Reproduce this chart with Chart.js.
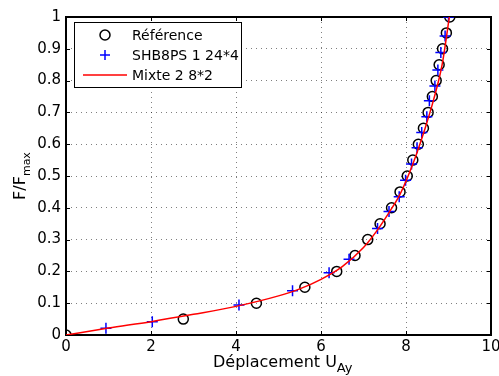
<!DOCTYPE html>
<html>
<head>
<meta charset="utf-8">
<script src="https://cdn.jsdelivr.net/npm/chart.js@4"></script>
<style>
  html, body { margin: 0; padding: 0; background: #fff; }
</style>
</head>
<body>
<canvas id="myChart" width="499" height="376"></canvas>
<script>
/*------------------------------DATA--------------------------------------------*/

// Référence (open circles)
const refX = [0, 2.76, 4.48, 5.62, 6.37, 6.8, 7.1, 7.39, 7.66, 7.86, 8.03, 8.16, 8.29, 8.41, 8.52, 8.62, 8.71, 8.78, 8.86, 8.95, 9.03];
const refY = [0, 0.05, 0.1, 0.15, 0.2, 0.25, 0.3, 0.35, 0.4, 0.45, 0.5, 0.55, 0.6, 0.65, 0.7, 0.75, 0.8, 0.85, 0.9, 0.95, 1.0];

// SHB8PS 1 24*4 (blue plus)
const shbX = [0.94, 2.03, 4.07, 5.33, 6.19, 6.66, 7.33, 7.6, 7.84, 7.99, 8.13, 8.26, 8.37, 8.49, 8.55, 8.68, 8.75, 8.82, 8.92, 9.0];
const shbY = [0.021, 0.042, 0.094, 0.139, 0.196, 0.238, 0.335, 0.388, 0.435, 0.487, 0.538, 0.589, 0.637, 0.686, 0.737, 0.783, 0.833, 0.888, 0.94, 1.0];

// Mixte 2 8*2 (red line)
const mixX = [0, 1, 2, 3, 4, 5, 5.5, 6, 6.5, 7, 7.3, 7.6, 7.85, 8.05, 8.25, 8.45, 8.65, 8.85, 9.02];
const mixY = [0, 0.022, 0.042, 0.065, 0.09, 0.123, 0.145, 0.175, 0.215, 0.275, 0.325, 0.385, 0.44, 0.5, 0.57, 0.65, 0.74, 0.85, 1.0];

const xTicks = [0, 2, 4, 6, 8, 10];
const yTicks = [0, 0.1, 0.2, 0.3, 0.4, 0.5, 0.6, 0.7, 0.8, 0.9, 1];

const seriesNames = ['Référence', 'SHB8PS 1 24*4', 'Mixte 2 8*2'];

function pts(xs, ys) {
    return xs.map((x, i) => ({ x: x, y: ys[i] }));
}

/*------------------------------PLUGINS------------------------------------------*/

const FONT = '"DejaVu Sans", sans-serif';

// frame + inward tick marks
const framePlugin = {
    id: 'frame',
    beforeDatasetsDraw(chart) {
        const ctx = chart.ctx;
        const a = chart.chartArea;
        const xs = chart.scales.x, ys = chart.scales.y;
        ctx.save();
        ctx.strokeStyle = '#000';
        ctx.lineWidth = 1;
        xTicks.forEach(v => {
            const px = Math.round(xs.getPixelForValue(v)) + 0.5;
            ctx.beginPath();
            ctx.moveTo(px, a.bottom); ctx.lineTo(px, a.bottom - 4);
            ctx.moveTo(px, a.top); ctx.lineTo(px, a.top + 4);
            ctx.stroke();
        });
        yTicks.forEach(v => {
            const py = Math.round(ys.getPixelForValue(v)) + 0.5;
            ctx.beginPath();
            ctx.moveTo(a.left, py); ctx.lineTo(a.left + 4, py);
            ctx.moveTo(a.right, py); ctx.lineTo(a.right - 4, py);
            ctx.stroke();
        });
        ctx.lineWidth = 2;
        ctx.strokeRect(a.left, a.top, a.right - a.left, a.bottom - a.top);
        ctx.restore();
    }
};

// axis titles with subscripts, and the legend box
const textPlugin = {
    id: 'texts',
    afterDraw(chart) {
        const ctx = chart.ctx;
        const a = chart.chartArea;
        ctx.save();
        ctx.fillStyle = '#000';
        ctx.textBaseline = 'alphabetic';
        ctx.textAlign = 'left';

        // x title : Déplacement U_Ay
        const main = 'Déplacement U';
        ctx.font = '16px ' + FONT;
        const wMain = ctx.measureText(main).width;
        const x0 = 213;
        ctx.fillText(main, x0, 367);
        ctx.font = '13px ' + FONT;
        ctx.fillText('Ay', x0 + wMain, 372);

        // y title : F/F_max
        ctx.save();
        ctx.translate(0, (a.top + a.bottom) / 2);
        ctx.rotate(-Math.PI / 2);
        ctx.font = '16px ' + FONT;
        const wF = ctx.measureText('F/F').width;
        ctx.font = '11px ' + FONT;
        const wM = ctx.measureText('max').width;
        const s0 = -(wF + wM) / 2;
        ctx.font = '16px ' + FONT;
        ctx.fillText('F/F', s0, 25);
        ctx.font = '11px ' + FONT;
        ctx.fillText('max', s0 + wF, 30);
        ctx.restore();

        // legend
        const lx = 74.5, ly = 22.5, lw = 167, lh = 65;
        ctx.fillStyle = '#fff';
        ctx.fillRect(lx, ly, lw, lh);
        ctx.strokeStyle = '#000';
        ctx.lineWidth = 1;
        ctx.strokeRect(lx, ly, lw, lh);

        const rows = [35, 55, 75];
        const mx = 105;
        // circle
        ctx.lineWidth = 1.5;
        ctx.strokeStyle = '#000';
        ctx.beginPath();
        ctx.arc(mx, rows[0], 5, 0, Math.PI * 2);
        ctx.stroke();
        // plus
        ctx.strokeStyle = '#0000ff';
        ctx.beginPath();
        ctx.moveTo(mx - 5, rows[1]); ctx.lineTo(mx + 5, rows[1]);
        ctx.moveTo(mx, rows[1] - 5); ctx.lineTo(mx, rows[1] + 5);
        ctx.stroke();
        // line
        ctx.strokeStyle = '#ff0000';
        ctx.beginPath();
        ctx.moveTo(83, rows[2]); ctx.lineTo(127, rows[2]);
        ctx.stroke();

        ctx.fillStyle = '#000';
        ctx.font = '14px ' + FONT;
        ctx.textBaseline = 'middle';
        seriesNames.forEach((n, i) => ctx.fillText(n, 132, rows[i] + 1));
        ctx.restore();
    }
};

/*------------------------------CHART--------------------------------------------*/

const data = {
    datasets: [
        {
            label: seriesNames[0],
            data: pts(refX, refY),
            showLine: false,
            pointStyle: 'circle',
            pointRadius: 5,
            pointBorderWidth: 1.5,
            pointBorderColor: '#000',
            pointBackgroundColor: 'rgba(0,0,0,0)',
            order: 3
        },
        {
            label: seriesNames[1],
            data: pts(shbX, shbY),
            showLine: false,
            pointStyle: 'cross',
            pointRadius: 5.5,
            pointBorderWidth: 1.5,
            pointBorderColor: '#0000ff',
            order: 2
        },
        {
            label: seriesNames[2],
            data: pts(mixX, mixY),
            showLine: true,
            borderColor: '#ff0000',
            borderWidth: 1.5,
            pointRadius: 0,
            cubicInterpolationMode: 'monotone',
            order: 1
        }
    ]
};

const config = {
    type: 'scatter',
    data: data,
    options: {
        responsive: false,
        animation: false,
        layout: { padding: { top: 17, right: 8, left: 0, bottom: 0 } },
        plugins: {
            legend: { display: false },
            tooltip: { enabled: false }
        },
        scales: {
            x: {
                type: 'linear',
                min: 0, max: 10,
                afterFit: s => { s.height = 41; s.paddingRight = 0; s.paddingLeft = 0; },
                afterBuildTicks: s => { s.ticks = xTicks.map(v => ({ value: v })); },
                ticks: {
                    color: '#000',
                    padding: 3,
                    maxRotation: 0,
                    font: { family: FONT, size: 15 },
                    callback: v => String(v)
                },
                grid: { color: 'rgba(0,0,0,0.5)', lineWidth: 1, drawTicks: false },
                border: { display: false, dash: [1, 4] }
            },
            y: {
                type: 'linear',
                min: 0, max: 1,
                afterFit: s => { s.width = 66; s.paddingTop = 0; s.paddingBottom = 0; },
                afterBuildTicks: s => { s.ticks = yTicks.map(v => ({ value: v })); },
                ticks: {
                    color: '#000',
                    padding: 5,
                    font: { family: FONT, size: 15 },
                    callback: v => (v === 0 ? '0' : v === 1 ? '1' : v.toFixed(1))
                },
                grid: { color: 'rgba(0,0,0,0.5)', lineWidth: 1, drawTicks: false },
                border: { display: false, dash: [1, 4] }
            }
        }
    },
    plugins: [framePlugin, textPlugin]
};

const myChart = new Chart(document.getElementById('myChart'), config);
</script>
</body>
</html>
